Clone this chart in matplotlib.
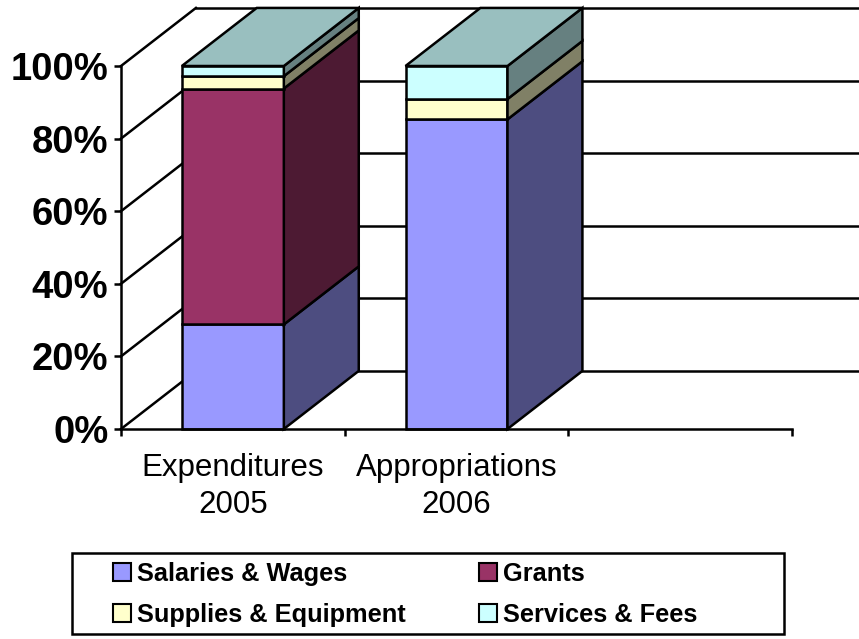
import matplotlib
matplotlib.use("Agg")
import matplotlib.pyplot as plt
from matplotlib.patches import Polygon, Patch, Rectangle
from matplotlib.colors import to_rgb

plt.rcParams['font.family'] = ['Liberation Sans', 'DejaVu Sans']

categories = ["Expenditures\n2005", "Appropriations\n2006"]
series = ["Salaries & Wages", "Grants", "Supplies & Equipment", "Services & Fees"]
salaries = [28.8, 85.3]
grants = [65.0, 0.0]
supplies = [3.4, 5.6]
services = [2.8, 9.1]
colors = ["#9999FF", "#993366", "#FFFFCC", "#CCFFFF"]
yticks = [0, 20, 40, 60, 80, 100]

# fake 3d depth (x in category units, y in percent)
DX = 0.335
DY = 16.0
BAR_W = 0.456
LW = 1.8


def shade(c, f):
    r, g, b = to_rgb(c)
    return (r * f, g * f, b * f)


def draw_segment(ax, x0, y0, y1, color, top):
    x1 = x0 + BAR_W
    kw = dict(edgecolor="black", linewidth=LW, clip_on=False, joinstyle="miter", zorder=3)
    ax.add_patch(Polygon([(x0, y0), (x1, y0), (x1, y1), (x0, y1)], facecolor=color, **kw))
    ax.add_patch(Polygon([(x1, y0), (x1 + DX, y0 + DY), (x1 + DX, y1 + DY), (x1, y1)],
                         facecolor=shade(color, 0.5), **kw))
    if top:
        ax.add_patch(Polygon([(x0, y1), (x1, y1), (x1 + DX, y1 + DY), (x0 + DX, y1 + DY)],
                             facecolor=shade(color, 0.75), **kw))


fig = plt.figure(figsize=(8.59, 6.39), dpi=100)
ax = fig.add_axes([121 / 859, (639 - 429) / 639, (792 - 121) / 859, (429 - 66) / 639])
ax.set_xlim(0, 3)
ax.set_ylim(0, 100)

# walls and floor
for v in yticks:
    ax.plot([0, DX], [v, v + DY], color="black", lw=LW, clip_on=False, zorder=1)
    ax.plot([DX, 3 + DX], [v + DY, v + DY], color="black", lw=LW, clip_on=False, zorder=1)

# stacked bars
stack = [salaries, grants, supplies, services]
for i in range(len(categories)):
    x0 = i + 0.5 - BAR_W / 2
    base = 0.0
    vals = [s[i] for s in stack]
    last = max(k for k, v in enumerate(vals) if v > 0)
    for k, v in enumerate(vals):
        if v <= 0:
            continue
        draw_segment(ax, x0, base, base + v, colors[k], k == last)
        base += v

for s in ["top", "right"]:
    ax.spines[s].set_visible(False)
ax.spines["left"].set_linewidth(LW)
ax.spines["bottom"].set_linewidth(LW)
ax.spines["left"].set_zorder(4)
ax.spines["bottom"].set_zorder(4)

ax.set_yticks(yticks)
ax.set_yticklabels([f"{v}%" for v in yticks], fontsize=27.5, fontweight="bold")
ax.tick_params(axis="y", length=5, width=LW, pad=4)

ax.set_xticks([0, 1, 2, 3])
ax.set_xticklabels([])
ax.tick_params(axis="x", which="major", length=5, width=LW)
ax.set_xticks([0.5, 1.5], minor=True)
ax.set_xticklabels(categories, minor=True, fontsize=22.5, linespacing=1.3)
ax.tick_params(axis="x", which="minor", length=0, pad=17)

# legend
fig.patches.append(Rectangle((72 / 859, (639 - 634) / 639), (784 - 72) / 859, (634 - 553) / 639,
                             transform=fig.transFigure, fill=False, edgecolor="black", lw=LW))
handles = [Patch(facecolor=c, edgecolor="black", linewidth=1.5, label=n) for c, n in zip(colors, series)]
order = [0, 2, 1, 3]
leg = fig.legend([handles[k] for k in order], [series[k] for k in order], ncol=2,
                 loc="upper left", bbox_to_anchor=(108 / 859, (639 - 557) / 639),
                 frameon=False, prop={"weight": "bold", "size": 18.3},
                 handlelength=0.71, handleheight=0.71, handletextpad=0.22,
                 columnspacing=2.9, labelspacing=0.65, borderpad=0.2, borderaxespad=0)

fig.savefig("out.png", dpi=100)
